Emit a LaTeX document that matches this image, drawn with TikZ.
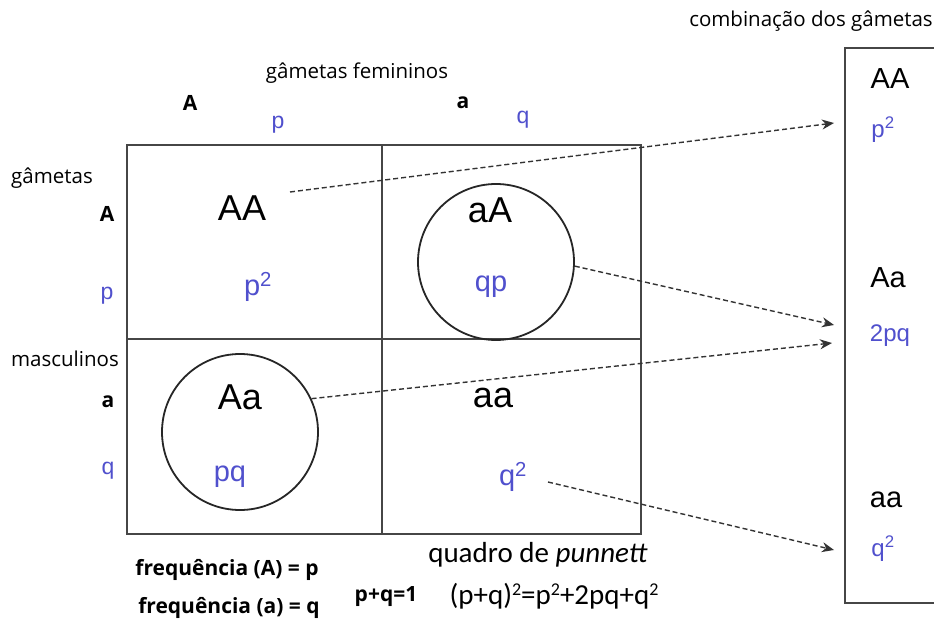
\documentclass[tikz,border=0pt]{standalone}
\usepackage{fontspec}
\setmainfont{Liberation Sans}
\newfontfamily\lab{Open Sans}
\newfontfamily\calfnt{Carlito}
\usetikzlibrary{arrows.meta}
\definecolor{bl}{RGB}{80,80,205}
\definecolor{gridc}{RGB}{70,70,70}
\newcommand{\supc}[1]{\raisebox{0.3em}{\fontsize{18}{20}\selectfont #1}}
\tikzset{
  big/.style={font=\fontsize{36}{40}\selectfont, inner sep=0},
  bigb/.style={font=\fontsize{29}{33}\selectfont, text=bl, inner sep=0},
  rbig/.style={font=\fontsize{29}{33}\selectfont, inner sep=0},
  rblue/.style={font=\fontsize{24}{28}\selectfont, text=bl, inner sep=0},
  lbl/.style={font=\lab\fontsize{20.5}{24}\selectfont, inner sep=0},
  lblb/.style={font=\lab\bfseries\fontsize{21}{24}\selectfont, inner sep=0},
  ax/.style={font=\fontsize{23}{26}\selectfont, text=bl, inner sep=0},
  gridline/.style={draw=gridc, line width=2.8pt},
  ring/.style={circle, draw=black!85, line width=1.8pt, minimum size=156pt, inner sep=0},
  darr/.style={draw=black!80, line width=1.4pt, dash pattern=on 5pt off 3pt, -{Stealth[length=12pt,width=10pt]}},
}
\begin{document}
\begin{tikzpicture}[x=1pt,y=-1pt]
\useasboundingbox (0,0) rectangle (934,620);
\fill[white] (0,0) rectangle (934,620);
% grid
\draw[gridline] (127,145) rectangle (641,534);
\draw[gridline] (382,145) -- (382,534);
\draw[gridline] (127,339) -- (641,339);
% right box
\draw[gridline] (945,48) -- (845,48) -- (845,603) -- (945,603);
% circles
\node[ring] (c1) at (496,262) {};
\node[ring] (c2) at (240,432) {};
% cell texts
\node[big] (AA) at (242,208) {AA};
\node[bigb] (p2) at (258,287) {p$^{\mathrm{2}}$};
\node[big] (aA) at (490,210) {aA};
\node[bigb] (qp) at (491,287) {qp};
\node[big] (Aa) at (240,397) {Aa};
\node[bigb] (pq) at (230,477) {pq};
\node[big] (aa) at (493,398) {aa};
\node[bigb] (q2) at (513,477) {q$^{\mathrm{2}}$};
% top labels
\node[lbl] (fem) at (357,73) {gâmetas femininos};
\node[lblb] (tA) at (190,103) {A};
\node[ax] (tp) at (278,125) {p};
\node[lblb] (ta) at (463,103) {a};
\node[ax] (tq) at (523,120) {q};
% left labels
\node[lbl] (gam) at (52,178) {gâmetas};
\node[lblb] (lA) at (107,214) {A};
\node[ax] (lp) at (107,296) {p};
\node[lbl] (masc) at (65,359) {masculinos};
\node[lblb] (la) at (108,402) {a};
\node[ax] (lq) at (108,471) {q};
% right column
\node[lbl] (comb) at (811,21) {combinação dos gâmetas};
\node[rbig] (rAA) at (890,79) {AA};
\node[rblue] (rp2) at (883,130) {p$^{\mathrm{2}}$};
\node[rbig] (rAa) at (888,278) {Aa};
\node[rblue] (r2pq) at (890,336) {2pq};
\node[rbig] (raa) at (886,500) {aa};
\node[rblue] (rq2) at (883,549) {q$^{\mathrm{2}}$};
% bottom texts
\node[lblb] (fA) at (227,570) {frequência (A) = p};
\node[lblb] (fa) at (229,608) {frequência (a) = q};
\node[lblb] (pq1) at (386,597) {p+q=1};
\node[font=\calfnt\fontsize{29}{32}\selectfont, inner sep=0] (quad) at (538,555) {quadro de \textit{punnett}};
\node[font=\calfnt\fontsize{29}{32}\selectfont, inner sep=0] (eq) at (554,596) {(p+q)\supc{2}=p\supc{2}+2pq+q\supc{2}};
% arrow endpoints
\coordinate (s1) at (290,192);
\coordinate (e1) at (834,123);
\coordinate (e2) at (834,325);
\coordinate (e3) at (832,343);
\coordinate (s4) at (548,482);
\coordinate (e4) at (834,550);
\draw[darr] (s1) -- (e1);
\draw[darr] (c1.-3) -- (e2);
\draw[darr] (c2.25) -- (e3);
\draw[darr] (s4) -- (e4);
\end{tikzpicture}
\end{document}
